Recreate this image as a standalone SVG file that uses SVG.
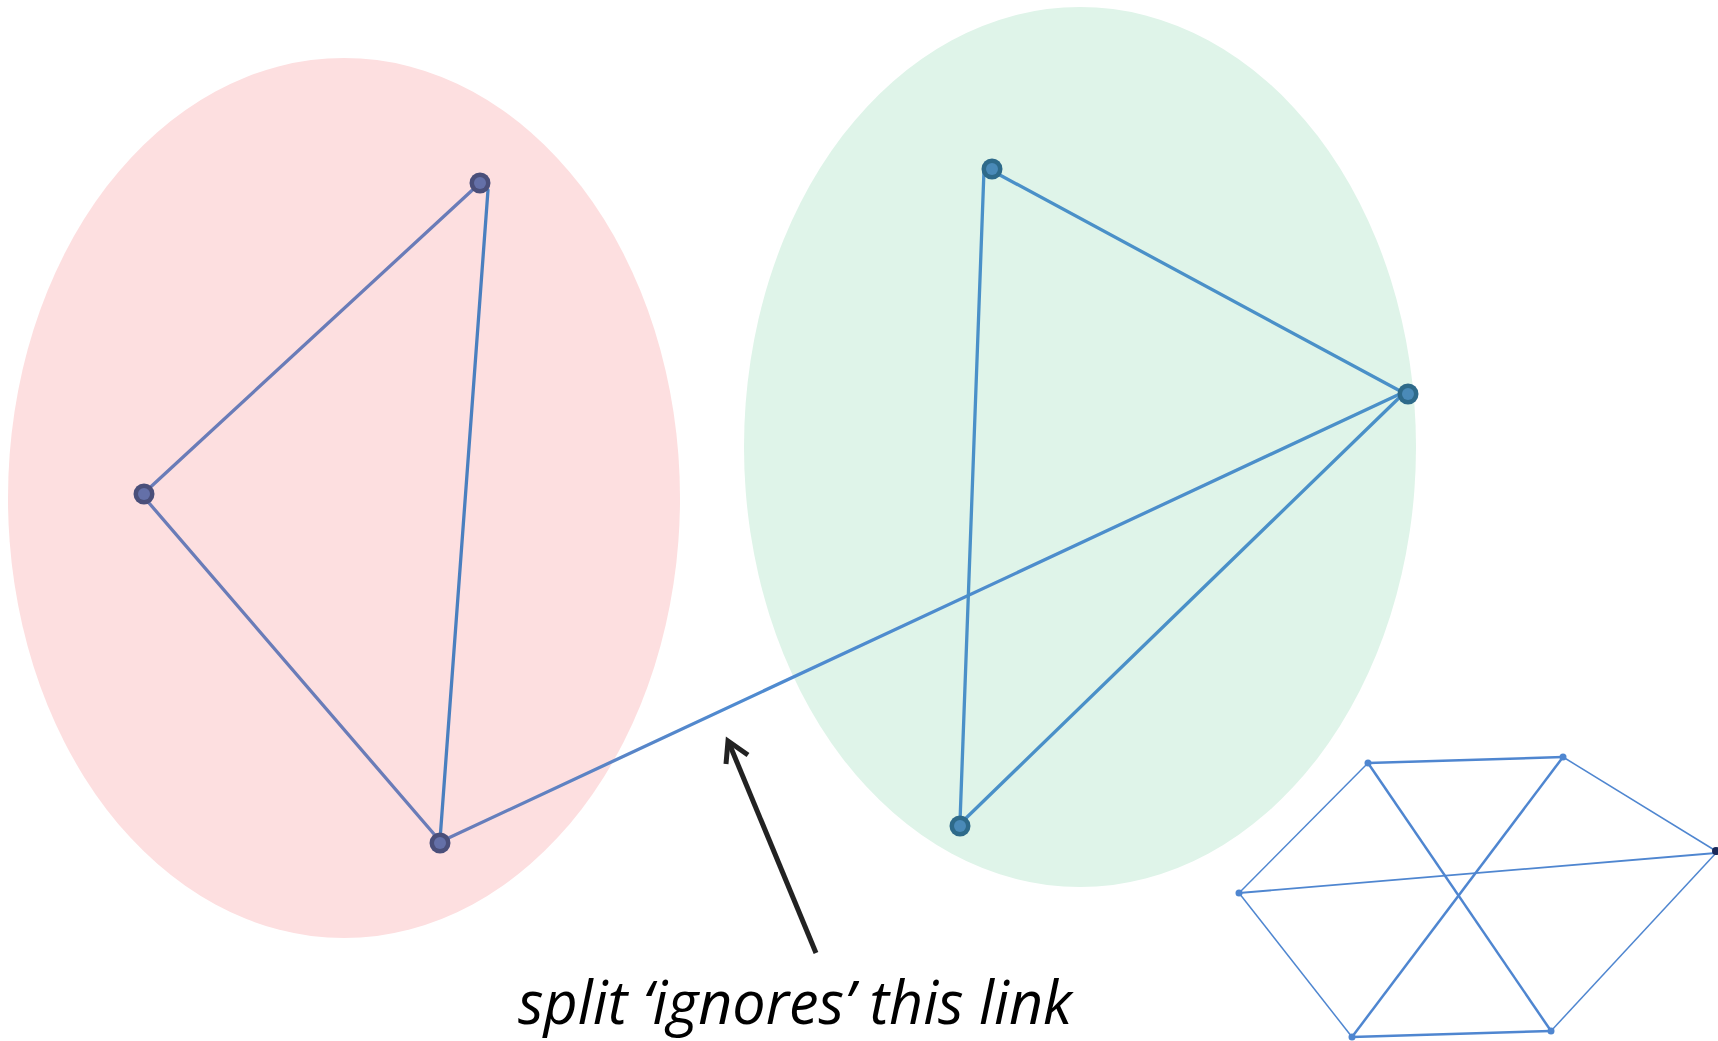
<svg xmlns="http://www.w3.org/2000/svg" width="1718" height="1041" viewBox="0 0 1718 1041">
<defs>
<linearGradient id="lg" gradientUnits="userSpaceOnUse" x1="442" y1="841" x2="1402" y2="393">
<stop offset="0" stop-color="#6a7cb8"/><stop offset="0.3" stop-color="#4f8ad0"/><stop offset="1" stop-color="#4a90c8"/>
</linearGradient>
<style>
.pk{fill:#4a4f7a}.pki{fill:#6470a8}
.gn{fill:#2e6a8a}.gni{fill:#4a8ab8}
.e{fill:none;stroke-width:3.3;stroke-linecap:round}
.s{fill:none;stroke:#4f86d0}
.sn{fill:#4f86d0}
</style>
</defs>
<rect width="1718" height="1041" fill="#ffffff"/>
<ellipse cx="344" cy="498" rx="336" ry="440" fill="#fddfe0"/>
<ellipse cx="1080" cy="447" rx="336" ry="440" fill="#dff4e9"/>
<g id="connectors">
<line class="e" x1="143" y1="494" x2="480" y2="183" stroke="#6a7cb8"/>
<line class="e" x1="488" y1="190" x2="440" y2="840" stroke="#4a7fbf"/>
<line class="e" x1="143" y1="496" x2="440" y2="841" stroke="#6a7cb8"/>
<line class="e" x1="442" y1="841" x2="1402" y2="393" stroke="url(#lg)"/>
<line class="e" x1="998" y1="174" x2="1402" y2="392" stroke="#4a90c8"/>
<line class="e" x1="984" y1="170" x2="960" y2="822" stroke="#4a90c8"/>
<line class="e" x1="1402" y1="395" x2="962" y2="822" stroke="#4a90c8"/>
<g id="small-edges">
<line class="s" stroke-width="2.5" x1="1368" y1="763" x2="1563" y2="757"/>
<line class="s" stroke-width="1.5" x1="1563" y1="757" x2="1716" y2="851"/>
<line class="s" stroke-width="1.8" x1="1716" y1="853" x2="1239" y2="893"/>
<line class="s" stroke-width="1.5" x1="1368" y1="763" x2="1239" y2="893"/>
<line class="s" stroke-width="1.5" x1="1239" y1="893" x2="1352" y2="1037"/>
<line class="s" stroke-width="2.5" x1="1352" y1="1037" x2="1551" y2="1031"/>
<line class="s" stroke-width="1.5" x1="1551" y1="1031" x2="1716" y2="853"/>
<line class="s" stroke-width="2.5" x1="1368" y1="763" x2="1551" y2="1031"/>
<line class="s" stroke-width="2.5" x1="1563" y1="757" x2="1352" y2="1037"/>
</g>
</g>
<g id="node-p1"><circle class="pk" cx="480" cy="183" r="10.5"/><circle class="pki" cx="480" cy="183" r="6"/></g>
<g id="node-p2"><circle class="pk" cx="144" cy="494" r="10.5"/><circle class="pki" cx="144" cy="494" r="6"/></g>
<g id="node-p3"><circle class="pk" cx="440" cy="843" r="10.5"/><circle class="pki" cx="440" cy="843" r="6"/></g>
<g id="node-g1"><circle class="gn" cx="992" cy="169" r="10.5"/><circle class="gni" cx="992" cy="169" r="6"/></g>
<g id="node-g2"><circle class="gn" cx="1408" cy="394" r="10.5"/><circle class="gni" cx="1408" cy="394" r="6"/></g>
<g id="node-g3"><circle class="gn" cx="960" cy="826" r="10.5"/><circle class="gni" cx="960" cy="826" r="6"/></g>
<g id="small-nodes">
<circle class="sn" cx="1368" cy="763" r="3.5"/>
<circle class="sn" cx="1563" cy="757" r="3.5"/>
<circle cx="1716" cy="851" r="4" fill="#1a2a5a"/>
<circle class="sn" cx="1239" cy="893" r="3.5"/>
<circle class="sn" cx="1352" cy="1037" r="3.5"/>
<circle class="sn" cx="1551" cy="1031" r="3.5"/>
</g>
<g id="arrow" fill="none" stroke="#222222" stroke-width="5" stroke-linecap="butt">
<line x1="816" y1="953" x2="729" y2="743"/>
<polyline points="726,764 728,741 748,755" stroke-linejoin="miter"/>
</g>
<text x="518" y="1024" font-family="Open Sans, Noto Sans, sans-serif" font-style="italic" font-size="60" textLength="554" lengthAdjust="spacingAndGlyphs" fill="#000000">split ‘ignores’ this link</text>
</svg>
